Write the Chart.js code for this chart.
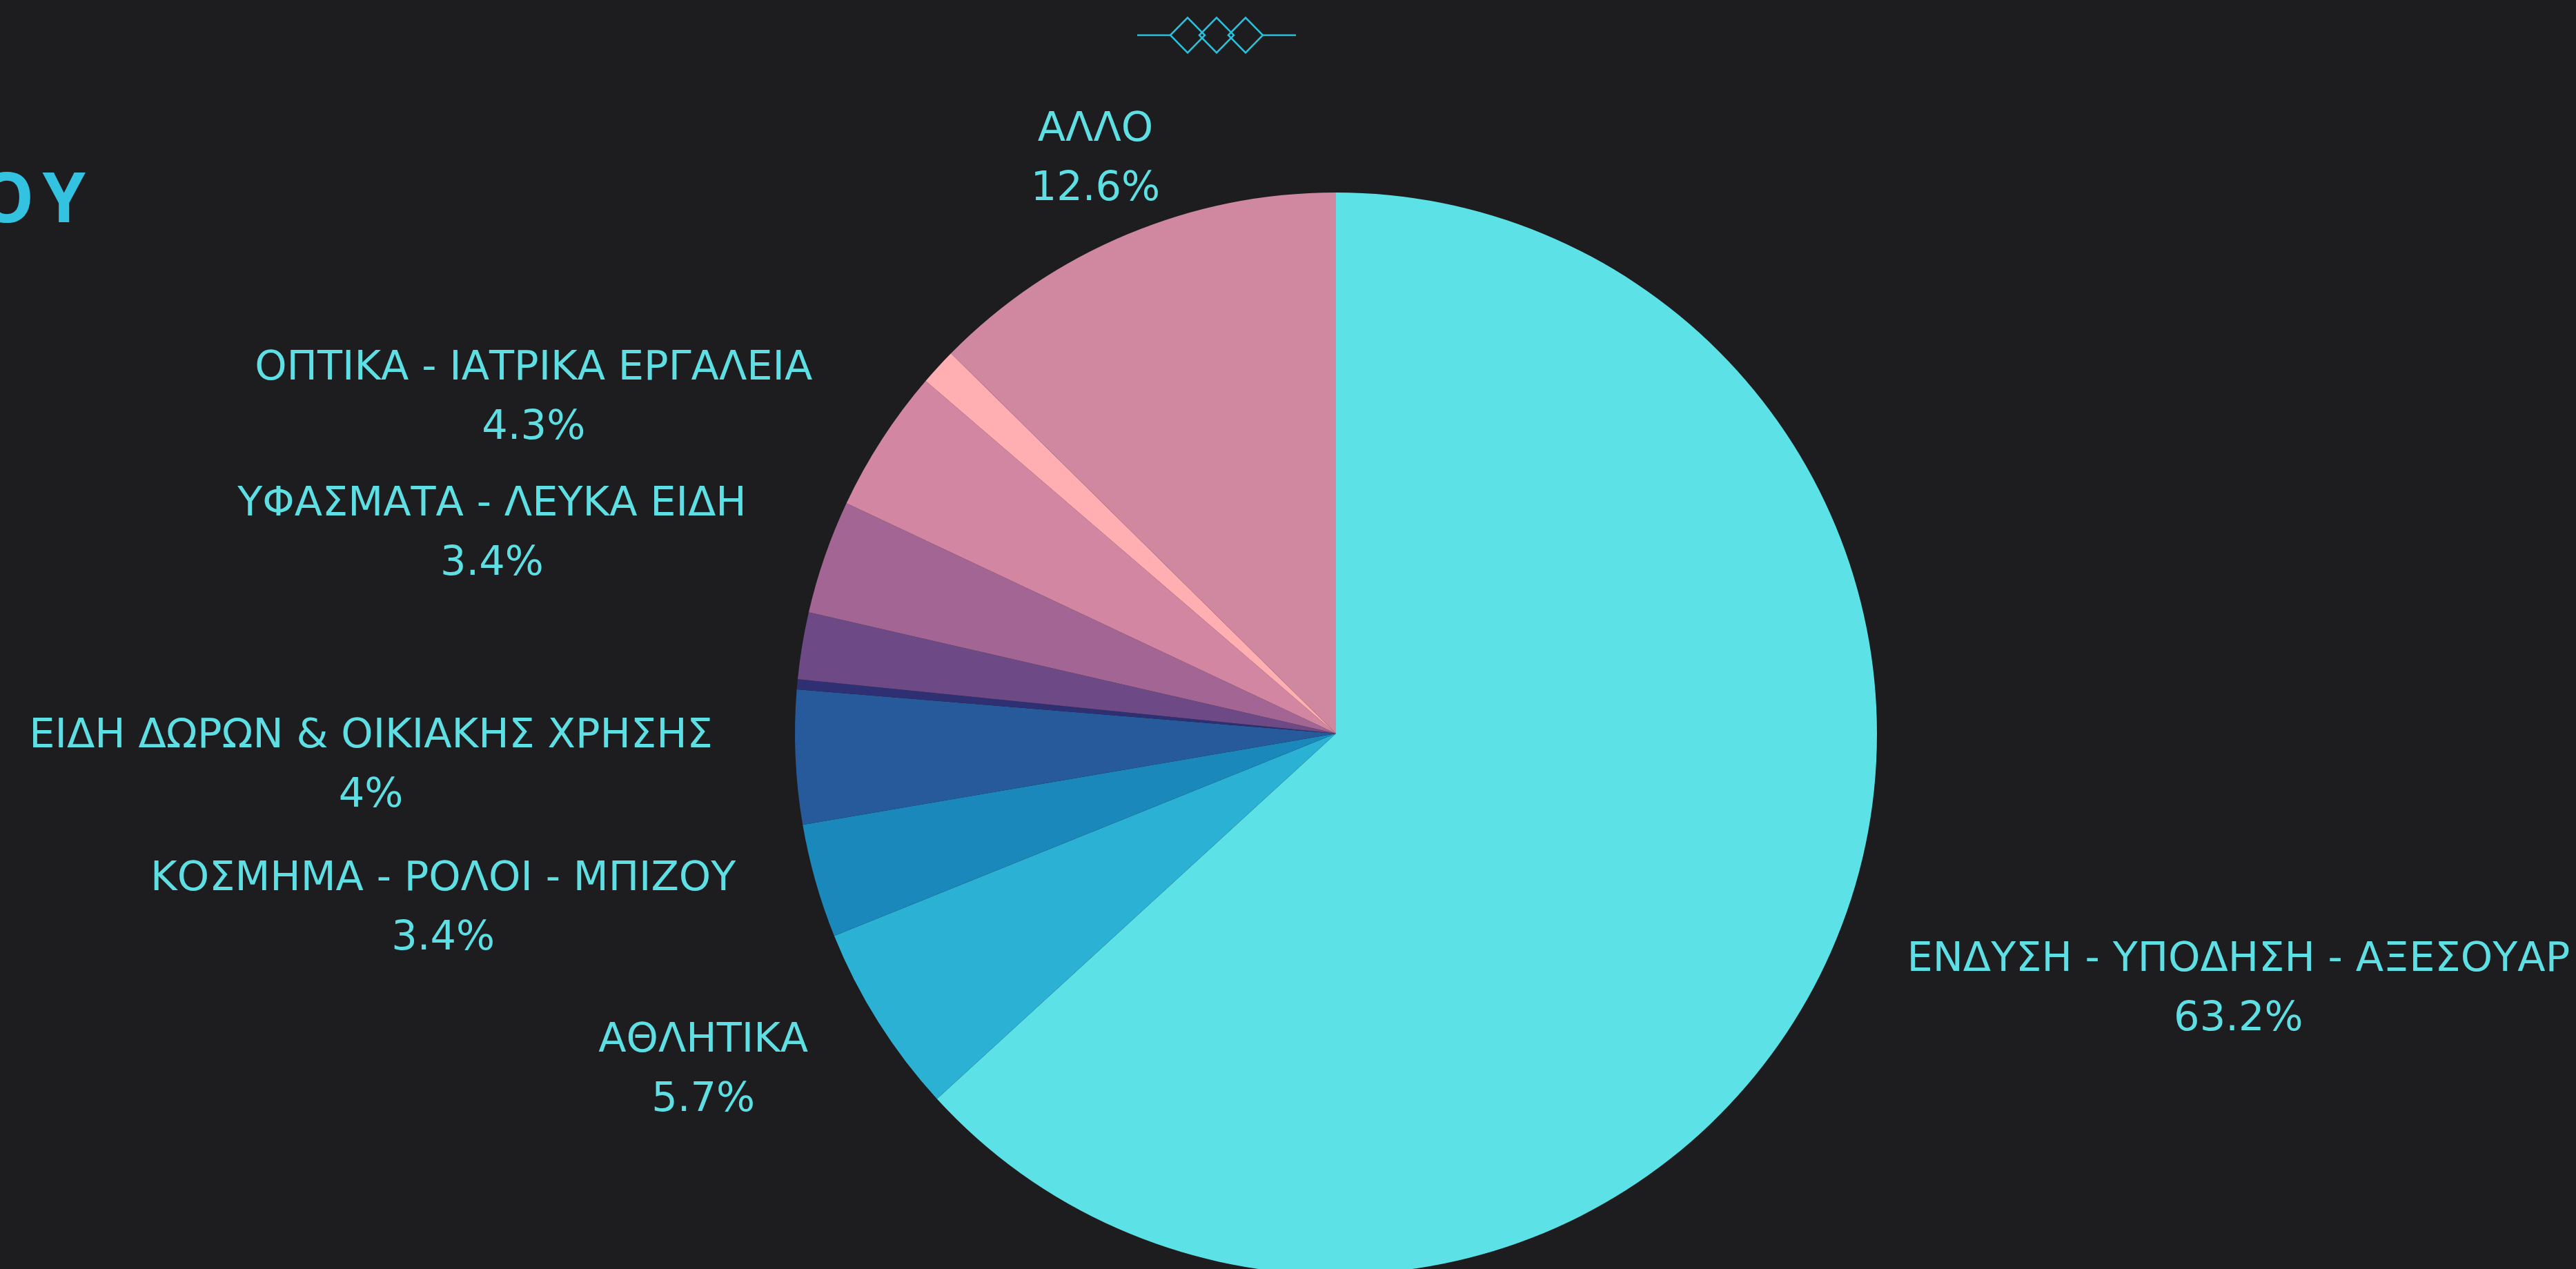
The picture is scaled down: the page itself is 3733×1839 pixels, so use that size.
<!DOCTYPE html>
<html>
<head>
<meta charset="utf-8">
<script src="https://cdn.jsdelivr.net/npm/chart.js@4.4.0/dist/chart.umd.min.js"></script>
<style>
    html, body {
        margin: 0;
        padding: 0;
        width: 3733px;
        height: 1839px;
        overflow: hidden;
        background: #1d1d1f;
    }
    #title {
        position: absolute;
        left: -30px;
        top: 233px;
        font-family: "Open Sans", sans-serif;
        font-weight: 700;
        font-size: 100px;
        letter-spacing: 12px;
        color: #33c3e0;
        line-height: 1;
        white-space: nowrap;
    }
    #deco {
        position: absolute;
        left: 1640px;
        top: 20px;
    }
    #wrap {
        position: absolute;
        left: 0;
        top: 0;
    }
</style>
</head>
<body>
<div id="title">ΟΥ</div>
<svg id="deco" width="250" height="64" viewBox="1640 20 250 64">
    <path d="M1648 51 L1696 51 M1830 51 L1878 51" stroke="#2cc0dc" stroke-width="2.5" fill="none"/>
    <path d="M1696 51 L1721 25.5 L1746 51 L1721 76.5 Z" stroke="#2cc0dc" stroke-width="2.5" fill="none"/>
    <path d="M1738 51 L1763 25.5 L1788 51 L1763 76.5 Z" stroke="#2cc0dc" stroke-width="2.5" fill="none"/>
    <path d="M1780 51 L1805 25.5 L1830 51 L1805 76.5 Z" stroke="#2cc0dc" stroke-width="2.5" fill="none"/>
</svg>
<div id="wrap"><canvas id="pieChart" width="3733" height="1900"></canvas></div>
<script>
// categories, clockwise from 12 o'clock
const categories = [
    "ΕΝΔΥΣΗ - ΥΠΟΔΗΣΗ - ΑΞΕΣΟΥΑΡ",
    "ΑΘΛΗΤΙΚΑ",
    "ΚΟΣΜΗΜΑ - ΡΟΛΟΙ - ΜΠΙΖΟΥ",
    "ΕΙΔΗ ΔΩΡΩΝ & ΟΙΚΙΑΚΗΣ ΧΡΗΣΗΣ",
    "ΒΙΒΛΙΑ - ΧΑΡΤΙΚΑ",
    "ΗΛΕΚΤΡΙΚΑ ΕΙΔΗ",
    "ΥΦΑΣΜΑΤΑ - ΛΕΥΚΑ ΕΙΔΗ",
    "ΟΠΤΙΚΑ - ΙΑΤΡΙΚΑ ΕΡΓΑΛΕΙΑ",
    "ΚΑΛΛΥΝΤΙΚΑ",
    "ΑΛΛΟ",
];
// share of stores (%)
const shares = [63.2, 5.7, 3.4, 4.0, 0.3, 2.0, 3.4, 4.3, 1.1, 12.6];
const sliceColors = [
    "#5ce1e6",
    "#2bb1d3",
    "#1a88bb",
    "#265a9a",
    "#2e3073",
    "#6d4a85",
    "#a36594",
    "#d386a1",
    "#ffafb2",
    "#cf889f",
];

const labelColor = "#5ddfe4";
const labelFont = '59px "DejaVu Sans", sans-serif';

// outside labels: category on one line, percent below
const outsideLabels = {
    id: "outsideLabels",
    afterDatasetsDraw(chart) {
        const ctx = chart.ctx;
        const meta = chart.getDatasetMeta(0);
        const data = chart.data.datasets[0].data;
        const total = data.reduce((a, b) => a + b, 0);
        ctx.save();
        ctx.font = labelFont;
        ctx.fillStyle = labelColor;
        ctx.textBaseline = "middle";
        meta.data.forEach(function (arc, i) {
            const pct = parseFloat((data[i] / total * 100).toFixed(1));
            if (pct < 3) return;
            const p = arc.getProps(["x", "y", "startAngle", "endAngle", "outerRadius"], true);
            const mid = (p.startAngle + p.endAngle) / 2;
            const dx = Math.cos(mid);
            const dy = Math.sin(mid);
            const ax = p.x + (p.outerRadius + 120) * dx;
            const ay = p.y + (p.outerRadius + 120) * dy + 8 * Math.abs(dx);
            const lines = [chart.data.labels[i], pct + "%"];
            const widths = lines.map((t) => ctx.measureText(t).width);
            const w = Math.max.apply(null, widths);
            let cx;
            if (Math.abs(dx) < 0.5) {
                cx = ax;
            } else if (dx < 0) {
                cx = ax - w / 2;
            } else {
                cx = ax + w / 2;
            }
            ctx.textAlign = "center";
            ctx.fillText(lines[0], cx, ay - 43);
            ctx.fillText(lines[1], cx, ay + 43);
        });
        ctx.restore();
    },
};

var pieCanvas = document.getElementById("pieChart").getContext("2d");
new Chart(pieCanvas, {
    type: "pie",
    data: {
        labels: categories,
        datasets: [
            {
                data: shares,
                backgroundColor: sliceColors,
                borderWidth: 0,
                hoverOffset: 0,
            },
        ],
    },
    options: {
        responsive: false,
        animation: false,
        layout: {
            padding: { top: 279, bottom: 53, left: 139, right: 0 },
        },
        plugins: {
            legend: { display: false },
            tooltip: { enabled: false },
        },
    },
    plugins: [outsideLabels],
});
</script>
</body>
</html>
